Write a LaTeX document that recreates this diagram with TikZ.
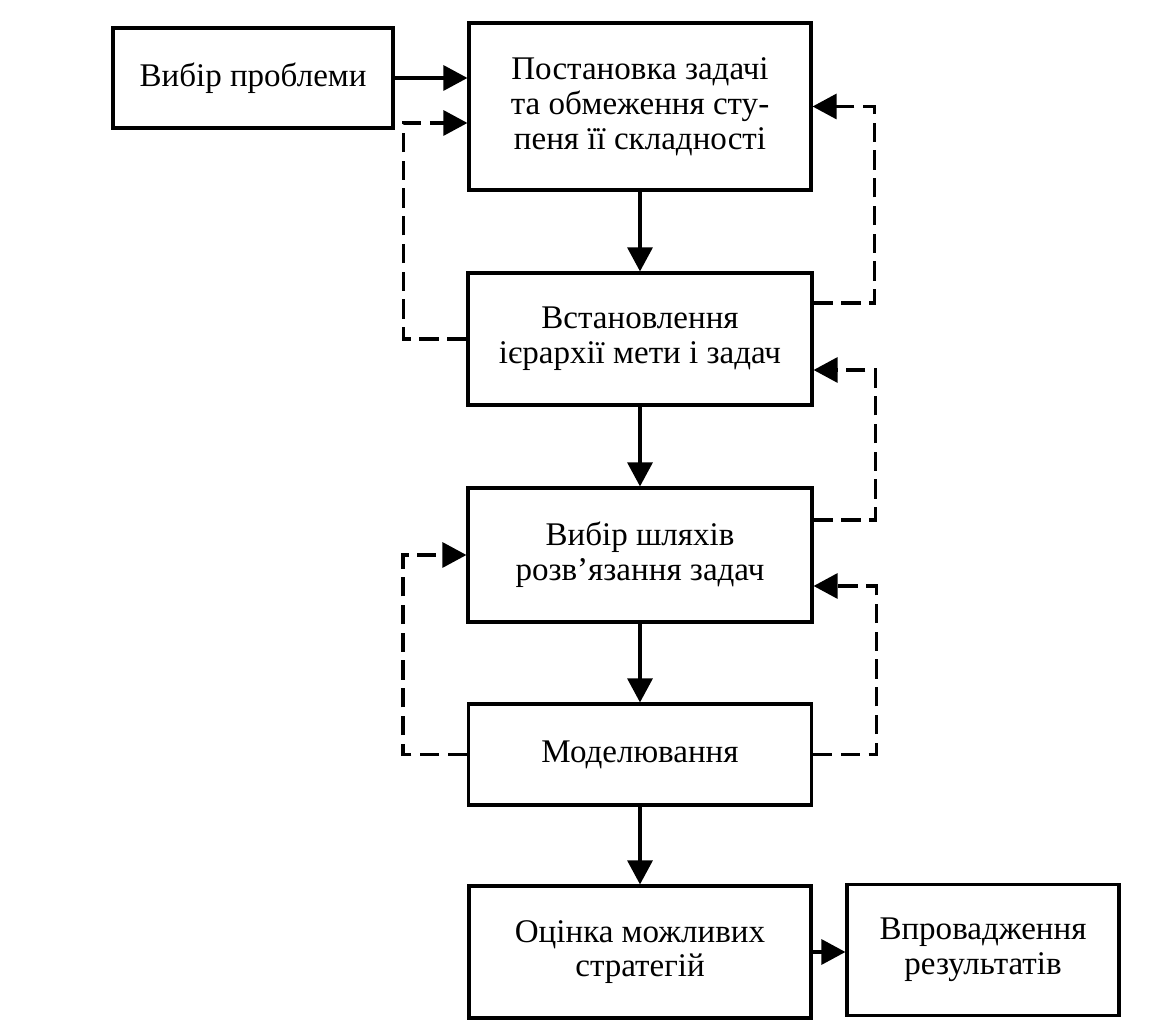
\documentclass[tikz,border=0pt]{standalone}
\usepackage{fontspec}
\setmainfont{Liberation Serif}
\usetikzlibrary{arrows.meta, calc}

\tikzset{
  block/.style={draw, line width=0.9pt, inner sep=0pt, align=center,
    font=\fontsize{9.4}{9.9}\selectfont},
  arr/.style={-{Triangle[length=2.4mm, width=2.5mm]}, line width=0.9pt},
  back/.style={arr, dash pattern=on 5.5pt off 2.4pt}
}

\begin{document}
\begin{tikzpicture}[x=1cm, y=-1cm]
    \useasboundingbox (0,0) rectangle (11.49,10.20);
    % main chain
    \node [block, minimum width=2.80cm, minimum height=1.00cm] (prob) at (2.53, 0.78) {Вибір проблеми};
    \node [block, minimum width=3.42cm, minimum height=1.67cm] (post) at (6.40, 1.065) {Постановка задачі\\та обмеження сту-\\пеня її складності};
    \node [block, minimum width=3.44cm, minimum height=1.32cm] (vst) at (6.40, 3.39) {Встановлення\\ієрархії мети і задач};
    \node [block, minimum width=3.44cm, minimum height=1.34cm] (vyb) at (6.40, 5.55) {Вибір шляхів\\розв’язання задач};
    \node [block, minimum width=3.43cm, minimum height=1.01cm] (mod) at (6.40, 7.545) {Моделювання};
    \node [block, minimum width=3.42cm, minimum height=1.32cm] (ots) at (6.40, 9.52) {Оцінка можливих\\стратегій};
    \node [block, minimum width=2.72cm, minimum height=1.31cm] (vpr) at (9.83, 9.50) {Впровадження\\результатів};

    \draw [arr] (prob.east) -- (prob.east -| post.west);
    \draw [arr] (post) -- (vst);
    \draw [arr] (vst) -- (vyb);
    \draw [arr] (vyb) -- (mod);
    \draw [arr] (mod) -- (ots);
    \draw [arr] (ots.east) -- (ots.east -| vpr.west);

    % feedback loops
    \draw [back] (vst.west) -- ++(-0.63, 0) |- ($(post.west)+(0, 0.165)$);
    \draw [back] ($(vst.east)+(0, -0.36)$) -- ++(0.61, 0) |- (post.east);
    \draw [back] ($(vyb.east)+(0, -0.35)$) -- ++(0.62, 0) |- ($(vst.east)+(0, 0.31)$);
    \draw [back] (mod.west) -- ++(-0.64, 0) |- (vyb.west);
    \draw [back] (mod.east) -- ++(0.63, 0) |- ($(vyb.east)+(0, 0.31)$);
  \end{tikzpicture}
\end{document}
